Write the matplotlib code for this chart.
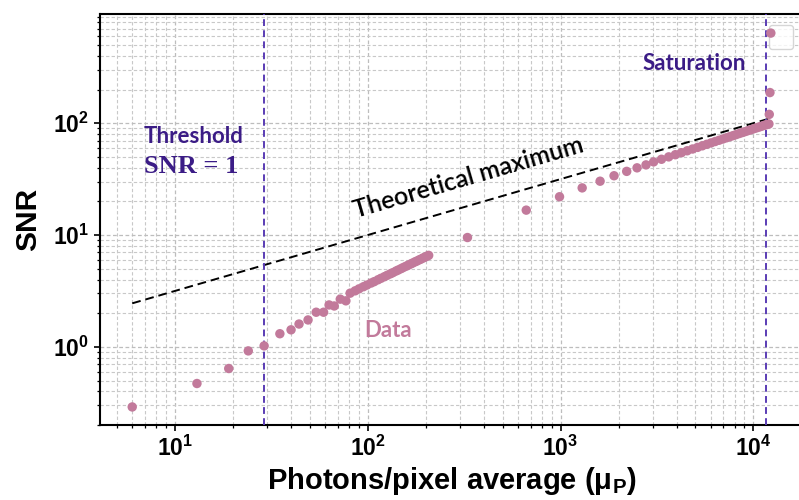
import numpy as np
import matplotlib
matplotlib.use("Agg")
import matplotlib.pyplot as plt
from matplotlib.ticker import FuncFormatter, LogLocator, NullFormatter

# ---------------- data ----------------
photons_low = [6, 13, 19, 24, 29, 35, 40, 44, 49, 54, 59, 63, 67, 72, 77, 81,
               86, 90, 95, 99, 104, 108, 113, 117, 122, 126, 131, 135, 140, 144,
               149, 153, 158, 162, 167, 171, 176, 180, 185, 189, 194, 198, 203, 207]
snr_low = [0.29, 0.47, 0.64, 0.92, 1.02, 1.31, 1.42, 1.60, 1.74, 2.04, 2.04, 2.37,
           2.32, 2.67, 2.58, 3.02, 3.17, 3.30, 3.45, 3.57, 3.72, 3.83, 3.98, 4.10,
           4.24, 4.36, 4.50, 4.61, 4.76, 4.87, 5.01, 5.13, 5.26, 5.37, 5.51, 5.62,
           5.76, 5.86, 6.00, 6.10, 6.24, 6.34, 6.47, 6.58]

photons_mid = [329, 664, 988, 1295, 1604, 1895, 2204, 2494, 2776]
snr_mid = [9.5, 16.7, 22.0, 26.4, 30.3, 33.9, 37.1, 39.9, 42.4]

photons_high = [3040, 3340, 3640, 3940, 4240, 4540, 4840, 5140, 5440, 5740,
                6040, 6340, 6640, 6940, 7240, 7540, 7840, 8140, 8440, 8740,
                9040, 9340, 9640, 9940, 10240, 10540, 10840, 11140, 11440, 11740]
snr_high = [45.1, 47.6, 50.0, 52.3, 54.5, 56.7, 58.8, 60.8, 62.8, 64.8,
            66.7, 68.6, 70.4, 72.2, 74.0, 75.7, 77.4, 79.1, 80.8, 82.4,
            84.0, 85.6, 87.1, 88.6, 90.2, 91.6, 93.1, 94.5, 95.9, 97.3]

photons_sat = [12050, 12100, 12200, 12330]
snr_sat = [98.5, 120, 188, 640]

theory_x = [6, 12100]
theory_y = [2.45, 110]

threshold_x = 28.8
saturation_x = 11600

# ---------------- style ----------------
plt.rcParams['font.family'] = ['Liberation Sans', 'DejaVu Sans']
plt.rcParams['mathtext.fontset'] = 'custom'
plt.rcParams['mathtext.rm'] = 'Liberation Sans'
plt.rcParams['mathtext.bf'] = 'Liberation Sans:bold'
plt.rcParams['mathtext.it'] = 'Liberation Sans:italic'

W, H = 799, 500
fig = plt.figure(figsize=(W / 100, H / 100), dpi=100)
left_px, right_px, top_px, bot_px = 100, 803, 14, 425
ax = fig.add_axes([left_px / W, 1 - bot_px / H,
                   (right_px - left_px) / W, (bot_px - top_px) / H])

ax.set_xscale('log')
ax.set_yscale('log')
x_left = 10 ** (1 - (175 - left_px) / 192.8)
x_right = 10 ** (4 + (right_px - 753.3) / 192.8)
ax.set_xlim(x_left, x_right)
ax.set_ylim(0.2, 948)

data_color = '#c27a9b'
line_purple = '#5a3cb4'
text_purple = '#3b1c86'

all_x = photons_low + photons_mid + photons_high + photons_sat
all_y = snr_low + snr_mid + snr_high + snr_sat
ax.scatter(all_x, all_y, s=46, color=data_color, edgecolors='none', zorder=4)

ax.plot(theory_x, theory_y, color='black', lw=1.4, linestyle=(0, (4.5, 2.5)), zorder=3)
ax.axvline(threshold_x, color=line_purple, lw=1.4, linestyle=(0, (3.5, 2.2)), zorder=3)
ax.axvline(saturation_x, color=line_purple, lw=1.4, linestyle=(0, (3.5, 2.2)), zorder=3)

# grid
ax.grid(True, which='major', color='#bdbdbd', linestyle=(0, (3, 2)), lw=0.9)
ax.grid(True, which='minor', color='#c8c8c8', linestyle=(0, (3, 2)), lw=0.8)
ax.set_axisbelow(True)

for s in ['left', 'top', 'bottom', 'right']:
    ax.spines[s].set_linewidth(1.5)
    ax.spines[s].set_color('black')

ax.xaxis.set_major_locator(LogLocator(base=10, numticks=10))
ax.yaxis.set_major_locator(LogLocator(base=10, numticks=10))
ax.xaxis.set_minor_locator(LogLocator(base=10, subs=np.arange(2, 10), numticks=20))
ax.yaxis.set_minor_locator(LogLocator(base=10, subs=np.arange(2, 10), numticks=20))
ax.xaxis.set_minor_formatter(NullFormatter())
ax.yaxis.set_minor_formatter(NullFormatter())

def fmt(v, pos):
    e = int(round(np.log10(v)))
    return r'$\mathbf{10^{%d}}$' % e

ax.xaxis.set_major_formatter(FuncFormatter(fmt))
ax.yaxis.set_major_formatter(FuncFormatter(fmt))
ax.tick_params(which='major', length=4, width=1.2, labelsize=16.5, pad=4)
ax.tick_params(which='minor', length=2.5, width=0.9)
ax.tick_params(top=False, right=False)

ax.set_xlabel(r'Photons/pixel average (μ$_{\mathbf{P}}$)', fontsize=21,
              fontweight='bold', labelpad=3)
ax.set_ylabel('SNR', fontsize=21.5, fontweight='bold', labelpad=8)

# annotations
ax.text(6.9, 10 ** ((347 - 142.7) / 111.85), 'Threshold', family='Lato',
        fontweight='bold', fontsize=16, color=text_purple, ha='left', va='baseline')
ax.text(6.9, 10 ** ((347 - 173) / 111.85), 'SNR = 1', family='Liberation Serif',
        fontweight='bold', fontsize=19, color=text_purple, ha='left', va='baseline')
ax.text(10 ** (1 + (694.5 - 175) / 192.8), 10 ** ((347 - 70) / 111.85), 'Saturation',
        family='Lato', fontweight='bold', fontsize=16, color=text_purple,
        ha='center', va='baseline')
ax.text(10 ** (1 + (388 - 175) / 192.8), 10 ** ((347 - 336.7) / 111.85), 'Data',
        family='Lato', fontweight='bold', fontsize=16, color=data_color,
        ha='center', va='baseline')

fig.canvas.draw()
p0 = ax.transData.transform((theory_x[0], theory_y[0]))
p1 = ax.transData.transform((theory_x[1], theory_y[1]))
angle = np.degrees(np.arctan2(p1[1] - p0[1], p1[0] - p0[0]))
ax.text(10 ** (1 + (468 - 175) / 192.8), 10 ** ((347 - 178) / 111.85),
        'Theoretical maximum', family='Lato', fontweight='semibold', fontsize=18,
        color='black', rotation=angle, rotation_mode='anchor', ha='center', va='center')

leg = ax.legend(loc='upper right', bbox_to_anchor=(793 / W, 1 - 25 / H),
                bbox_transform=fig.transFigure, borderaxespad=0, borderpad=0.85,
                frameon=True)
leg.get_frame().set_edgecolor('#cccccc')
leg.set_zorder(2)

fig.savefig('out.png', dpi=100)
